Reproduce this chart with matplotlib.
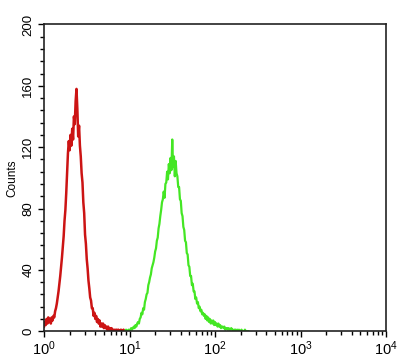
""" flow cytometry overlay histogram: control (red) vs stained (green) """

import numpy as np
import matplotlib
matplotlib.use("Agg")
from matplotlib import pyplot as plt
from matplotlib.ticker import LogLocator, MultipleLocator, FixedLocator

plt.rcParams["font.family"] = ["Liberation Sans", "DejaVu Sans"]
plt.rcParams["mathtext.fontset"] = "custom"
plt.rcParams["mathtext.rm"] = "Liberation Sans"
plt.rcParams["mathtext.default"] = "regular"

# histogram channels, 0.01 decade wide; first channel given as a decade exponent
bin_width = 0.01

red_start = 0.00
red_counts = [
	3, 6, 4, 8, 5, 9, 6, 8, 5, 9,
	7, 10, 9, 13, 15, 18, 22, 26, 31, 36,
	42, 48, 55, 62, 72, 79, 90, 103, 116, 124,
	118, 128, 121, 132, 125, 140, 135, 150, 158, 145,
	127, 134, 121, 114, 103, 97, 84, 77, 63, 57,
	47, 41, 33, 28, 22, 20, 15, 15, 10, 12,
	8, 10, 6, 8, 5, 7, 3, 5, 3, 5,
	2, 4, 2, 3, 1, 3, 1, 2, 1, 2,
	0, 1, 0, 1, 0, 1, 0, 1, 0, 0,
	1, 0, 0, 1, 0, 0, 0, 0, 0, 0,
]

green_start = 0.95
green_counts = [
	0, 1, 0, 0, 1, 0, 1, 2, 1, 2,
	3, 2, 4, 3, 5, 6, 5, 8, 9, 12,
	11, 15, 14, 19, 21, 24, 25, 30, 32, 35,
	37, 41, 43, 45, 48, 52, 54, 59, 61, 67,
	70, 75, 79, 84, 86, 91, 87, 96, 97, 104,
	99, 109, 103, 113, 105, 125, 107, 114, 101, 111,
	103, 101, 94, 94, 86, 85, 77, 75, 68, 66,
	59, 58, 51, 50, 43, 42, 36, 36, 30, 31,
	26, 26, 21, 22, 18, 19, 15, 16, 13, 14,
	11, 12, 10, 11, 8, 10, 7, 9, 6, 8,
	5, 7, 5, 7, 4, 6, 4, 5, 3, 5,
	3, 4, 2, 3, 3, 2, 3, 1, 2, 2,
	1, 2, 1, 1, 2, 1, 1, 0, 1, 1,
	0, 1, 0, 1, 0, 0, 1, 0, 0, 0,
	1, 0, 0, 0, 0,
]

y_major = [0, 40, 80, 120, 160, 200]


def channel_positions(start: float, n: int) -> np.ndarray:
	""" log-scale channel centres for a histogram starting at 10**start """
	return 10 ** (start + bin_width*np.arange(n))


fig = plt.figure(figsize=(4, 3.6), dpi=100)
ax = fig.add_axes([0.11, 0.08, 0.855, 0.852])

ax.plot(channel_positions(red_start, len(red_counts)), red_counts,
        color="#cc1414", linewidth=1.8)
ax.plot(channel_positions(green_start, len(green_counts)), green_counts,
        color="#44e624", linewidth=1.6)

ax.set_xscale("log")
ax.set_xlim(1, 1e4)
ax.set_ylim(0, 200)

ax.xaxis.set_major_locator(LogLocator(base=10, numticks=10))
ax.xaxis.set_minor_locator(LogLocator(base=10, subs=np.arange(2, 10), numticks=20))
ax.yaxis.set_major_locator(FixedLocator(y_major))
ax.yaxis.set_minor_locator(MultipleLocator(8))

ax.tick_params(axis="both", which="major", direction="out", length=4, width=1, color="black")
ax.tick_params(axis="both", which="minor", direction="out", length=3, width=1, color="black")
ax.tick_params(axis="x", labelsize=10.5, pad=2)
ax.tick_params(axis="y", labelsize=9.5, pad=3)
for label in ax.get_yticklabels():
	label.set_rotation(90)
	label.set_verticalalignment("center")

for spine in ax.spines.values():
	spine.set_linewidth(1.2)
	spine.set_color("#222222")

ax.set_ylabel("Counts", fontsize=8.5, labelpad=3)

fig.savefig("out.png", dpi=100)
